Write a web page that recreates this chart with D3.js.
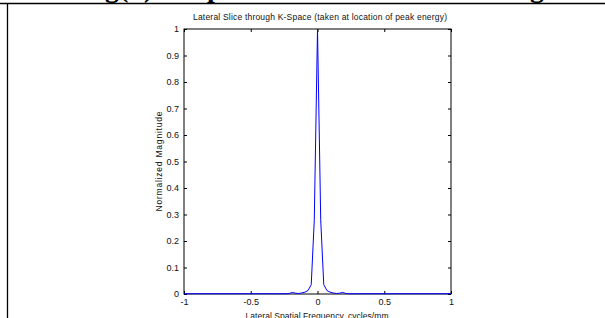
<!DOCTYPE html>
<html>
<head>
<meta charset="utf-8">
<script src="https://cdn.jsdelivr.net/npm/d3@7"></script>
<style>
    body { margin: 0; background: #fff; }
    svg { display: block; }
    .tick text { font-family: "Liberation Sans", Arial, sans-serif; font-size: 9px; fill: #111; }
</style>
</head>
<body>
<svg width="605" height="318"></svg>
<script>
var freq = [-1, -0.3, -0.235, -0.212, -0.188, -0.165, -0.141, -0.118, -0.094, -0.071, -0.047, -0.024, 0,
    0.024, 0.047, 0.071, 0.094, 0.118, 0.141, 0.165, 0.188, 0.212, 0.235, 0.3, 1];
var magnitude = [0.001, 0.001, 0.001, 0.002, 0.006, 0.003, 0.002, 0.004, 0.007, 0.013, 0.035, 0.28, 1,
    0.28, 0.035, 0.013, 0.007, 0.004, 0.002, 0.003, 0.006, 0.002, 0.001, 0.001, 0.001];
var xTicks = [-1, -0.5, 0, 0.5, 1];
var yTicks = [0, 0.1, 0.2, 0.3, 0.4, 0.5, 0.6, 0.7, 0.8, 0.9, 1];

var svg = d3.select("svg");

// marco de la pagina (documento recortado)
svg.append("line").attr("x1", 0).attr("x2", 605).attr("y1", 3.5).attr("y2", 3.5)
    .attr("stroke", "#000").attr("stroke-width", 1.6);
svg.append("line").attr("x1", 7.5).attr("x2", 7.5).attr("y1", 3).attr("y2", 318)
    .attr("stroke", "#000").attr("stroke-width", 1.3);

// titulo grande del documento, casi todo fuera de la ventana
var heading = svg.append("g")
    .attr("font-family", "'Liberation Serif', 'Times New Roman', serif")
    .attr("font-weight", "bold")
    .attr("font-size", 28);
heading.append("text").attr("x", 105).attr("y", -3).text("g(b)");
heading.append("text").attr("x", 207).attr("y", -3).text("p");
heading.append("text").attr("x", 530).attr("y", -3).text("g");

var pLeft = 184, pRight = 451, pTop = 29, pBottom = 294;

var x = d3.scaleLinear().domain([-1, 1]).range([pLeft, pRight]);
var y = d3.scaleLinear().domain([0, 1]).range([pBottom, pTop]);

var fmt = function (d) { return String(d); };

svg.append("g")
    .attr("transform", "translate(0," + pBottom + ")")
    .call(d3.axisBottom(x).tickValues(xTicks).tickSize(-3).tickPadding(5).tickFormat(fmt))
    .call(function (g) { g.select(".domain").remove(); });

svg.append("g")
    .attr("transform", "translate(0," + pTop + ")")
    .call(d3.axisTop(x).tickValues(xTicks).tickSize(-3).tickFormat(""))
    .call(function (g) { g.select(".domain").remove(); });

svg.append("g")
    .attr("transform", "translate(" + pLeft + ",0)")
    .call(d3.axisLeft(y).tickValues(yTicks).tickSize(-3).tickPadding(5).tickFormat(fmt))
    .call(function (g) { g.select(".domain").remove(); });

svg.append("g")
    .attr("transform", "translate(" + pRight + ",0)")
    .call(d3.axisRight(y).tickValues(yTicks).tickSize(-3).tickFormat(""))
    .call(function (g) { g.select(".domain").remove(); });

svg.selectAll(".tick line").attr("stroke", "#000");

svg.append("rect")
    .attr("x", pLeft).attr("y", pTop)
    .attr("width", pRight - pLeft).attr("height", pBottom - pTop)
    .attr("fill", "none").attr("stroke", "#000").attr("stroke-width", 1);

var line = d3.line()
    .x(function (d, i) { return x(freq[i]); })
    .y(function (d) { return y(d); });

svg.append("path")
    .datum(magnitude)
    .attr("d", line)
    .attr("fill", "none")
    .attr("stroke", "#0000ff")
    .attr("stroke-width", 1);

var labels = svg.append("g")
    .attr("font-family", "'Liberation Sans', Arial, sans-serif")
    .attr("font-size", 8.5)
    .attr("fill", "#111")
    .attr("text-anchor", "middle");

labels.append("text")
    .attr("x", 320).attr("y", 20)
    .attr("textLength", 254)
    .text("Lateral Slice through K-Space (taken at location of peak energy)");

labels.append("text")
    .attr("x", 317).attr("y", 319)
    .attr("textLength", 143)
    .text("Lateral Spatial Frequency, cycles/mm");

labels.append("text")
    .attr("transform", "translate(162," + ((pTop + pBottom) / 2) + ")rotate(-90)")
    .attr("textLength", 100)
    .text("Normalized Magnitude");
</script>
</body>
</html>
